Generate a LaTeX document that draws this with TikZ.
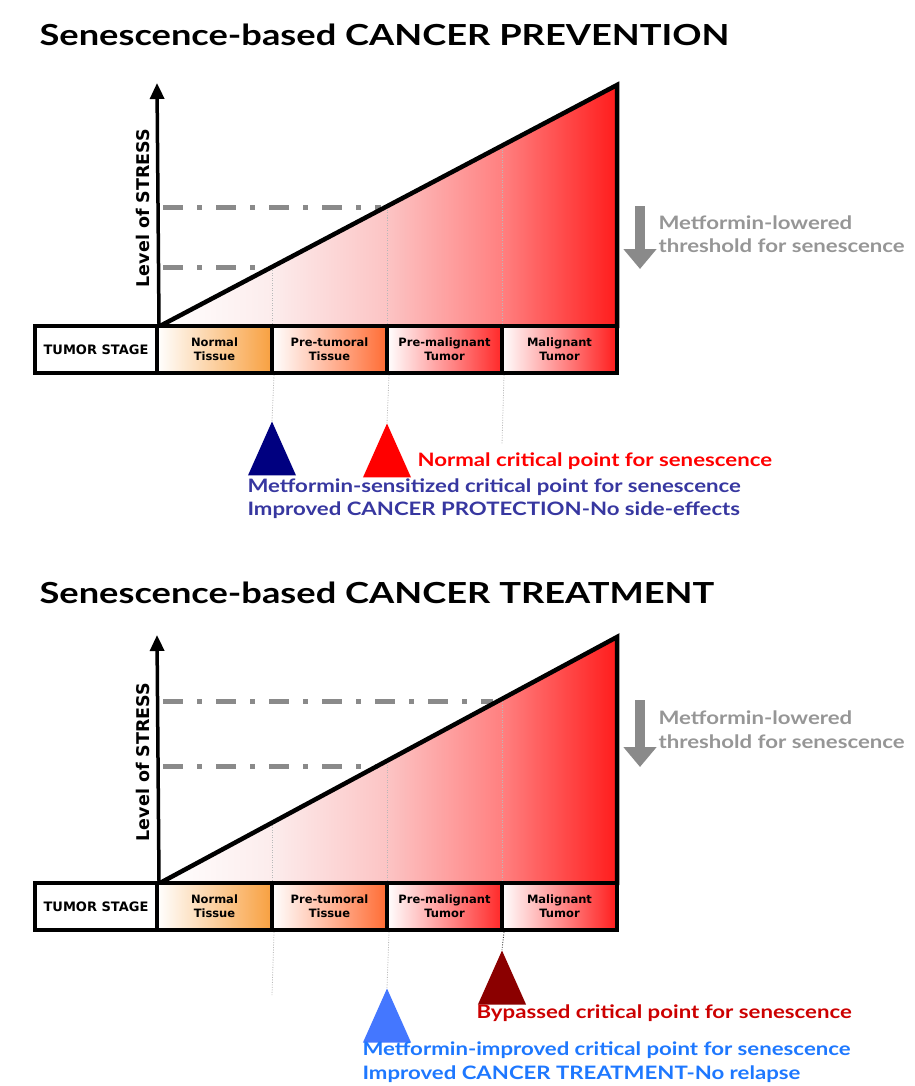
\documentclass[tikz,border=0pt]{standalone}
\usepackage{fontspec}
\setmainfont{Lato}
\newfontfamily\titlefont[FakeStretch=1.25]{Lato}
\newfontfamily\calloutfont[FakeStretch=1.2]{Lato}
\newfontfamily\dejavu{DejaVu Sans}
\usetikzlibrary{shapes.geometric,arrows.meta,positioning}

\definecolor{navytri}{RGB}{0,0,128}
\definecolor{redtri}{RGB}{255,0,0}
\definecolor{darkredtri}{RGB}{139,0,0}
\definecolor{bluetri}{RGB}{68,119,255}
\definecolor{prevtext}{RGB}{55,55,160}
\definecolor{treattext}{RGB}{30,120,255}
\definecolor{bypasstext}{RGB}{204,0,0}
\definecolor{threshgray}{RGB}{150,150,150}
\definecolor{dashgray}{RGB}{138,138,138}
\definecolor{normalend}{RGB}{248,160,64}
\definecolor{pretumend}{RGB}{255,108,52}
\definecolor{premalend}{RGB}{255,40,40}
\definecolor{malend}{RGB}{255,28,28}

\pgfdeclarehorizontalshading{stressshade}{100bp}{color(0bp)=(white); color(25bp)=(white);
  color(37.25bp)=(rgb,255:red,252;green,236;blue,236); color(49.85bp)=(rgb,255:red,252;green,196;blue,196);
  color(62.4bp)=(rgb,255:red,255;green,128;blue,128); color(75bp)=(malend); color(100bp)=(malend)}

\begin{document}
\begin{tikzpicture}[x=1pt,y=-1pt,
    heading/.style={anchor=west,font=\titlefont\bfseries\fontsize{29}{34}\selectfont},
    stage/.style={draw,line width=4pt,minimum height=47pt,minimum width=115pt,
      inner sep=0pt,align=center,left color=white,font=\dejavu\bfseries\fontsize{11.5}{14}\selectfont},
    stagelabel/.style={stage,minimum width=122pt,fill=white,font=\dejavu\bfseries\fontsize{13}{14}\selectfont},
    critical/.style={isosceles triangle,isosceles triangle apex angle=48,shape border rotate=90,
      minimum height=54pt,inner sep=0pt,anchor=apex},
    callout/.style={anchor=west,align=left,font=\calloutfont\bfseries\fontsize{18.5}{23.5}\selectfont},
    stresslabel/.style={rotate=90,font=\dejavu\bfseries\fontsize{17.5}{20}\selectfont},
    guide/.style={gray!55,line width=0.8pt,dash pattern=on 1pt off 1.5pt},
    level/.style={dashgray,line width=5pt,dash pattern=on 20pt off 14pt on 5pt off 14pt},
    axis/.style={line width=3.5pt,-{Triangle[length=16pt,width=14pt]}},
    lowered/.style={dashgray,line width=10pt,-{Triangle[length=20pt,width=32pt]}}]

    \useasboundingbox (0,0) rectangle (914,1086);

    % ---------- CANCER PREVENTION ----------
    \node[heading] (title1) at (36,35) {Senescence-based CANCER PREVENTION};

    \shade[shading=stressshade] (160,326) -- (617,85) -- (617,326) -- cycle;
    \coordinate (h11) at (272,267);
    \coordinate (h12) at (387,206);
    \coordinate (h13) at (502,146);
    \draw[guide] (272,326) -- (h11);
    \draw[guide] (387,326) -- (h12);
    \draw[guide] (502,326) -- (h13);
    \draw[level] (163,267) -- (266,267);
    \draw[level] (163,207) -- (381,207);
    \draw[line width=4.5pt,line join=miter] (160,326) -- (617,85) -- (617,328);

    \node[stagelabel] (ts1) at (96,349.5) {TUMOR STAGE};
    \node[stage,right color=normalend] (nt1) at (214.5,349.5) {Normal\\Tissue};
    \node[stage,right color=pretumend] (pt1) at (329.5,349.5) {Pre-tumoral\\Tissue};
    \node[stage,right color=premalend] (pm1) at (444.5,349.5) {Pre-malignant\\Tumor};
    \node[stage,right color=malend] (mt1) at (559.5,349.5) {Malignant\\Tumor};

    \coordinate (top1) at (157,83);
    \draw[axis] (ts1.north east) -- (top1);
    \node[stresslabel] (stress1) at (143,208) {Level of STRESS};

    \coordinate (a1) at (640,206);
    \coordinate (b1) at (640,269);
    \draw[lowered] (a1) -- (b1);
    \node[callout,threshgray] (thr1) at (655,234) {Metformin-lowered\\threshold for senescence};

    \node[critical,fill=navytri] (met1) at (272,421) {};
    \node[critical,fill=redtri] (nor1) at (387,423) {};
    \coordinate (end1) at (502,444);
    \draw[guide] (nt1.south east) -- (met1.apex);
    \draw[guide] (pt1.south east) -- (nor1.apex);
    \draw[guide] (pm1.south east) -- (end1);

    \node[callout,redtri] (nortext) at (414,461) {Normal critical point for senescence};
    \node[callout,prevtext] (mettext) at (244,498.5) {Metformin-sensitized critical point for senescence\\Improved CANCER PROTECTION-No side-effects};

    % ---------- CANCER TREATMENT ----------
    \node[heading] (title2) at (36,593) {Senescence-based CANCER TREATMENT};

    \shade[shading=stressshade] (160,883) -- (617,637) -- (617,883) -- cycle;
    \coordinate (h21) at (272,823);
    \coordinate (h22) at (387,761);
    \coordinate (h23) at (502,699);
    \draw[guide] (272,883) -- (h21);
    \draw[guide] (387,883) -- (h22);
    \draw[guide] (502,883) -- (h23);
    \draw[level] (163,766) -- (378,766);
    \draw[level] (163,701) -- (493,701);
    \draw[line width=4.5pt,line join=miter] (160,883) -- (617,637) -- (617,885);

    \node[stagelabel] (ts2) at (96,906.5) {TUMOR STAGE};
    \node[stage,right color=normalend] (nt2) at (214.5,906.5) {Normal\\Tissue};
    \node[stage,right color=pretumend] (pt2) at (329.5,906.5) {Pre-tumoral\\Tissue};
    \node[stage,right color=premalend] (pm2) at (444.5,906.5) {Pre-malignant\\Tumor};
    \node[stage,right color=malend] (mt2) at (559.5,906.5) {Malignant\\Tumor};

    \coordinate (top2) at (157,635);
    \draw[axis] (ts2.north east) -- (top2);
    \node[stresslabel] (stress2) at (143,762) {Level of STRESS};

    \coordinate (a2) at (640,700);
    \coordinate (b2) at (640,767);
    \draw[lowered] (a2) -- (b2);
    \node[callout,threshgray] (thr2) at (655,729.5) {Metformin-lowered\\threshold for senescence};

    \coordinate (end2) at (272,995);
    \node[critical,fill=bluetri] (imp2) at (387,988) {};
    \node[critical,fill=darkredtri] (byp2) at (502,950) {};
    \draw[guide] (nt2.south east) -- (end2);
    \draw[guide] (pt2.south east) -- (imp2.apex);
    \draw[guide,black!80] (pm2.south east) -- (byp2.apex);

    \node[callout,bypasstext] (byptext) at (473,1013) {Bypassed critical point for senescence};
    \node[callout,treattext] (imptext) at (359,1062) {Metformin-improved critical point for senescence\\Improved CANCER TREATMENT-No relapse};
\end{tikzpicture}
\end{document}
